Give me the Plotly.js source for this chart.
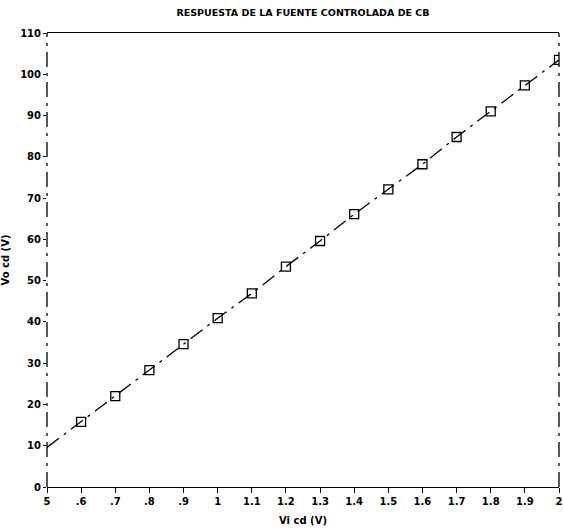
<!DOCTYPE html>
<html>
<head>
<meta charset="utf-8">
<script src="https://cdn.plot.ly/plotly-3.0.1.min.js"></script>
<style>html,body{margin:0;padding:0;background:#fff;}#chart{width:563px;height:532px;}</style>
</head>
<body>
<div id="chart"></div>
<script>
// Data
var vinMeasured = [0.6, 0.7, 0.8, 0.9, 1.0, 1.1, 1.2, 1.3, 1.4, 1.5, 1.6, 1.7, 1.8, 1.9, 2.0];
var voutMeasured = [15.8, 22.0, 28.3, 34.6, 40.9, 46.9, 53.4, 59.6, 66.1, 72.1, 78.2, 84.8, 91.0, 97.3, 103.5];
var vinLine = [0.5, 0.6, 0.7, 0.8, 0.9, 1.0, 1.1, 1.2, 1.3, 1.4, 1.5, 1.6, 1.7, 1.8, 1.9, 2.0];
var voutLine = [9.6, 15.8, 22.0, 28.3, 34.6, 40.9, 46.9, 53.4, 59.6, 66.1, 72.1, 78.2, 84.8, 91.0, 97.3, 103.5];
var xTickVals = [0.5, 0.6, 0.7, 0.8, 0.9, 1.0, 1.1, 1.2, 1.3, 1.4, 1.5, 1.6, 1.7, 1.8, 1.9, 2.0];
var xTickText = ["5", ".6", ".7", ".8", ".9", "1", "1.1", "1.2", "1.3", "1.4", "1.5", "1.6", "1.7", "1.8", "1.9", "2"];
var yTickVals = [0, 10, 20, 30, 40, 50, 60, 70, 80, 90, 100, 110];
var yTickText = ["0", "10", "20", "30", "40", "50", "60", "70", "80", "90", "100", "110"];

var fontFam = "DejaVu Sans, sans-serif";

var traces = [
  {
    x: vinLine, y: voutLine, mode: 'lines', type: 'scatter',
    line: {color: '#000', width: 1.3, dash: 'longdashdot'},
    hoverinfo: 'skip', showlegend: false
  },
  {
    x: vinMeasured, y: voutMeasured, mode: 'markers', type: 'scatter',
    marker: {symbol: 'square-open', size: 9, color: '#000', line: {width: 1.3, color: '#000'}},
    showlegend: false
  }
];

var layout = {
  width: 563, height: 532,
  margin: {l: 47, r: 4, t: 33, b: 45, pad: 0},
  paper_bgcolor: '#fff', plot_bgcolor: '#fff',
  showlegend: false,
  title: {
    text: 'RESPUESTA DE LA FUENTE CONTROLADA DE CB',
    font: {family: fontFam, size: 9.5, color: '#000', weight: 'bold'},
    x: 0.5, xref: 'paper', xanchor: 'center',
    y: 0.977, yref: 'container', yanchor: 'middle'
  },
  xaxis: {
    range: [0.5, 2.0],
    tickmode: 'array', tickvals: xTickVals, ticktext: xTickText,
    ticks: 'outside', ticklen: 5, tickwidth: 1, tickcolor: '#000',
    showgrid: false, zeroline: false,
    showline: true, linecolor: '#000', linewidth: 1.2, mirror: true,
    tickfont: {family: fontFam, size: 10, color: '#000', weight: 'bold'},
    title: {text: 'Vi cd (V)', font: {family: fontFam, size: 10, color: '#000', weight: 'bold'}, standoff: 10}
  },
  yaxis: {
    range: [0, 110],
    tickmode: 'array', tickvals: yTickVals, ticktext: yTickText,
    ticks: 'outside', ticklen: 3, tickwidth: 1, tickcolor: '#000',
    showgrid: false, zeroline: false,
    showline: false,
    tickfont: {family: fontFam, size: 10, color: '#000', weight: 'bold'},
    title: {text: 'Vo cd (V)', font: {family: fontFam, size: 10, color: '#000', weight: 'bold'}, standoff: 10}
  },
  shapes: [
    {type: 'line', xref: 'paper', yref: 'paper', x0: 0, x1: 0, y0: 0, y1: 1, line: {color: '#000', width: 1.3, dash: 'longdashdot'}},
    {type: 'line', xref: 'paper', yref: 'paper', x0: 1, x1: 1, y0: 0, y1: 1, line: {color: '#000', width: 1.3, dash: 'longdashdot'}}
  ]
};

Plotly.newPlot('chart', traces, layout, {displayModeBar: false, staticPlot: true});
</script>
</body>
</html>
